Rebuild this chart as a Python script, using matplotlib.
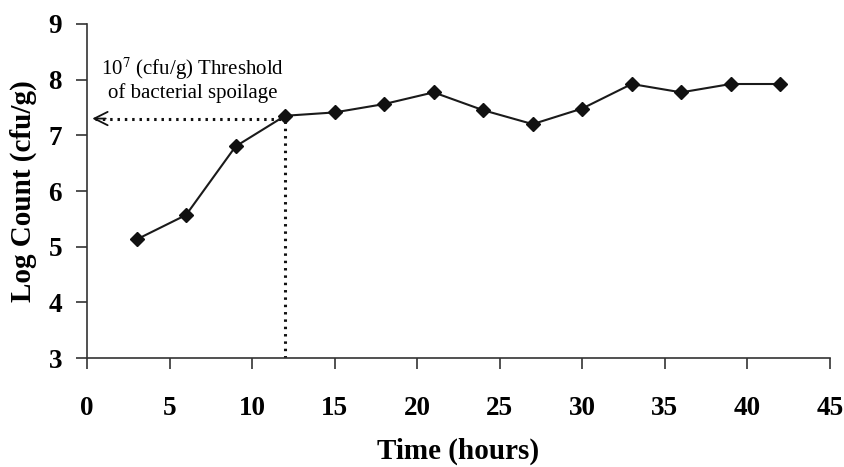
import matplotlib
matplotlib.use("Agg")
import matplotlib.pyplot as plt

time_h = [3, 6, 9, 12, 15, 18, 21, 24, 27, 30, 33, 36, 39, 42]
log_count = [5.13, 5.57, 6.80, 7.35, 7.41, 7.56, 7.77, 7.45, 7.20, 7.48, 7.92, 7.77, 7.92, 7.92]
threshold_time = 12
threshold_log = 7.3
x_ticks = [0, 5, 10, 15, 20, 25, 30, 35, 40, 45]
y_ticks = [3, 4, 5, 6, 7, 8, 9]

plt.rcParams['font.family'] = ['Liberation Serif', 'DejaVu Serif']
plt.rcParams['mathtext.fontset'] = 'stix'

fig = plt.figure(figsize=(8.45, 4.67), dpi=100)
ax = fig.add_axes([0.103, 0.233, 0.879, 0.716])

ax.plot(time_h, log_count, color='#1a1a1a', lw=1.5, marker='D', ms=7.5,
        mfc='#111111', mec='#111111', zorder=3)

# threshold dotted lines
ax.plot([threshold_time, threshold_time], [3, threshold_log], color='#111111',
        lw=2.2, linestyle=(0, (0.8, 1.6)), zorder=2)
ax.plot([0.5, threshold_time], [threshold_log, threshold_log], color='#111111',
        lw=2.2, linestyle=(0, (0.8, 1.6)), zorder=2)
ax.annotate('', xy=(0.15, threshold_log), xytext=(1.3, threshold_log),
            arrowprops=dict(arrowstyle='->', color='#111111', lw=1.3,
                            mutation_scale=24))

ax.text(6.4, 8.0, r'10$^{7}$ (cfu/g) Threshold' + '\nof bacterial spoilage',
        ha='center', va='center', fontsize=15, linespacing=1.1)

ax.set_xlim(0, 45)
ax.set_ylim(3, 9)
ax.set_xticks(x_ticks)
ax.set_yticks(y_ticks)
for s in ['top', 'right']:
    ax.spines[s].set_visible(False)
for s in ['left', 'bottom']:
    ax.spines[s].set_color('#333333')
    ax.spines[s].set_linewidth(1.2)
ax.tick_params(axis='both', direction='out', length=8, width=1.2, color='#333333',
               labelsize=19.5)
ax.tick_params(axis='x', pad=19)
ax.tick_params(axis='y', pad=10)
for lbl in ax.get_xticklabels() + ax.get_yticklabels():
    lbl.set_fontweight('bold')

ax.set_xlabel('Time (hours)', fontsize=21, fontweight='bold', labelpad=12)
ax.set_ylabel('Log Count (cfu/g)', fontsize=21, fontweight='bold', labelpad=8)

fig.savefig('out.png', dpi=100)
